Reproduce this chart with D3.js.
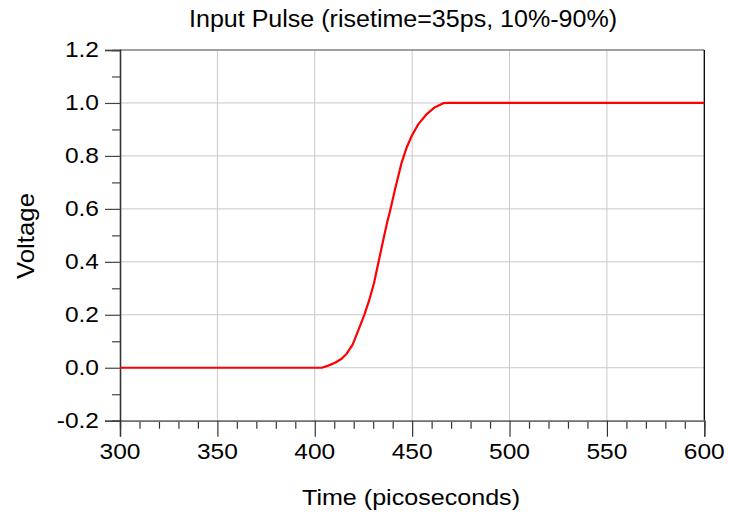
<!DOCTYPE html>
<html>
<head>
<meta charset="utf-8">
<script src="https://cdn.jsdelivr.net/npm/d3@7"></script>
<style>
  body { margin: 0; background: #fff; }
  svg { display: block; font-family: "Liberation Sans", Arial, sans-serif; }
</style>
</head>
<body>
<svg id="chart" width="729" height="515"></svg>
<script>
// ---- data ----
const times = [300, 403.6, 406.9, 410.4, 413.8, 416.4, 419.5, 423.2, 425.4, 428.0, 430.4, 432.6, 435.2, 437.2, 438.6, 441.2, 444.6, 447.2, 449.8, 453.2, 457.5, 461.7, 466.0, 468.6, 600];
const volts = [0, 0, 0.008, 0.019, 0.034, 0.053, 0.088, 0.157, 0.199, 0.256, 0.319, 0.395, 0.483, 0.55, 0.59, 0.673, 0.775, 0.832, 0.876, 0.920, 0.958, 0.984, 0.999, 1.0, 1.0];
const xMajorTicks = [300, 350, 400, 450, 500, 550, 600];
const xMinorTicks = [310,320,330,340,360,370,380,390,410,420,430,440,460,470,480,490,510,520,530,540,560,570,580,590];
const yMajorTicks = [-0.2, 0.0, 0.2, 0.4, 0.6, 0.8, 1.0, 1.2];
const yMinorTicks = [-0.1, 0.1, 0.3, 0.5, 0.7, 0.9, 1.1];
const titleText = "Input Pulse (risetime=35ps, 10%-90%)";
const xLabel = "Time (picoseconds)";
const yLabel = "Voltage";

// ---- layout ----
const L = 120, R = 704.3, T = 50, B = 420.7;
const svg = d3.select("#chart");
const x = d3.scaleLinear().domain([300, 600]).range([L, R]);
const y = d3.scaleLinear().domain([-0.2, 1.2]).range([B, T]);

// grid
const grid = svg.append("g");
grid.selectAll("line.vx").data(xMajorTicks.slice(1, -1)).join("line")
  .attr("x1", d => x(d)).attr("x2", d => x(d)).attr("y1", T).attr("y2", B)
  .attr("stroke", "#c8c8c8").attr("stroke-width", 1);
grid.selectAll("line.hy").data(yMajorTicks.slice(1, -1)).join("line")
  .attr("x1", L).attr("x2", R).attr("y1", d => y(d)).attr("y2", d => y(d))
  .attr("stroke", "#c8c8c8").attr("stroke-width", 1);

// borders
svg.append("line").attr("x1", L).attr("x2", R).attr("y1", T).attr("y2", T).attr("stroke", "#808080").attr("stroke-width", 1.3);
svg.append("line").attr("x1", R).attr("x2", R).attr("y1", T).attr("y2", B).attr("stroke", "#000").attr("stroke-width", 1.3);

// x axis (minor + major)
const xMinorAxis = d3.axisBottom(x).tickValues(xMinorTicks).tickSize(8).tickFormat("");
const xMajorAxis = d3.axisBottom(x).tickValues(xMajorTicks).tickSize(16).tickFormat("");
const gxm = svg.append("g").attr("transform", `translate(0,${B})`).call(xMinorAxis);
const gxM = svg.append("g").attr("transform", `translate(0,${B})`).call(xMajorAxis);
[gxm, gxM].forEach(g => {
  g.select(".domain").attr("stroke", "#707070").attr("stroke-width", 1.5);
  g.selectAll(".tick line").attr("stroke", "#333").attr("stroke-width", 1.2);
});

// y axis (minor + major)
const yMinorAxis = d3.axisLeft(y).tickValues(yMinorTicks).tickSize(8).tickFormat("");
const yMajorAxis = d3.axisLeft(y).tickValues(yMajorTicks).tickSize(15).tickFormat("");
const gym = svg.append("g").attr("transform", `translate(${L},0)`).call(yMinorAxis);
const gyM = svg.append("g").attr("transform", `translate(${L},0)`).call(yMajorAxis);
[gym, gyM].forEach(g => {
  g.select(".domain").attr("stroke", "#333").attr("stroke-width", 1.3);
  g.selectAll(".tick line").attr("stroke", "#444").attr("stroke-width", 1.2);
});

// tick labels (stretched glyphs like the reference)
const fs = 21.5, sx = 1.14;
svg.append("g").selectAll("text").data(xMajorTicks).join("text")
  .attr("transform", d => `translate(${x(d)},458.5) scale(${sx},1)`)
  .attr("text-anchor", "middle").attr("font-size", fs).attr("fill", "#000")
  .text(d => d3.format("d")(d));
svg.append("g").selectAll("text").data(yMajorTicks).join("text")
  .attr("transform", d => `translate(99,${y(d) + 7.3}) scale(${sx},1)`)
  .attr("text-anchor", "end").attr("font-size", fs).attr("fill", "#000")
  .text(d => d3.format(".1f")(d).replace("−", "-"));

// line
const line = d3.line().x((d, i) => x(times[i])).y((d, i) => y(volts[i]));
svg.append("path").datum(volts).attr("d", line)
  .attr("fill", "none").attr("stroke", "#ff0000").attr("stroke-width", 2.2)
  .attr("stroke-linejoin", "round");

// titles
svg.append("text").attr("x", 403).attr("y", 26.5).attr("text-anchor", "middle")
  .attr("font-size", 23).attr("textLength", 428).attr("lengthAdjust", "spacingAndGlyphs")
  .text(titleText);
svg.append("text").attr("x", 411).attr("y", 505).attr("text-anchor", "middle")
  .attr("font-size", 22).attr("textLength", 218).attr("lengthAdjust", "spacingAndGlyphs")
  .text(xLabel);
svg.append("text").attr("transform", "translate(34,236) rotate(-90)").attr("text-anchor", "middle")
  .attr("font-size", 24).attr("textLength", 86).attr("lengthAdjust", "spacingAndGlyphs")
  .text(yLabel);
</script>
</body>
</html>
